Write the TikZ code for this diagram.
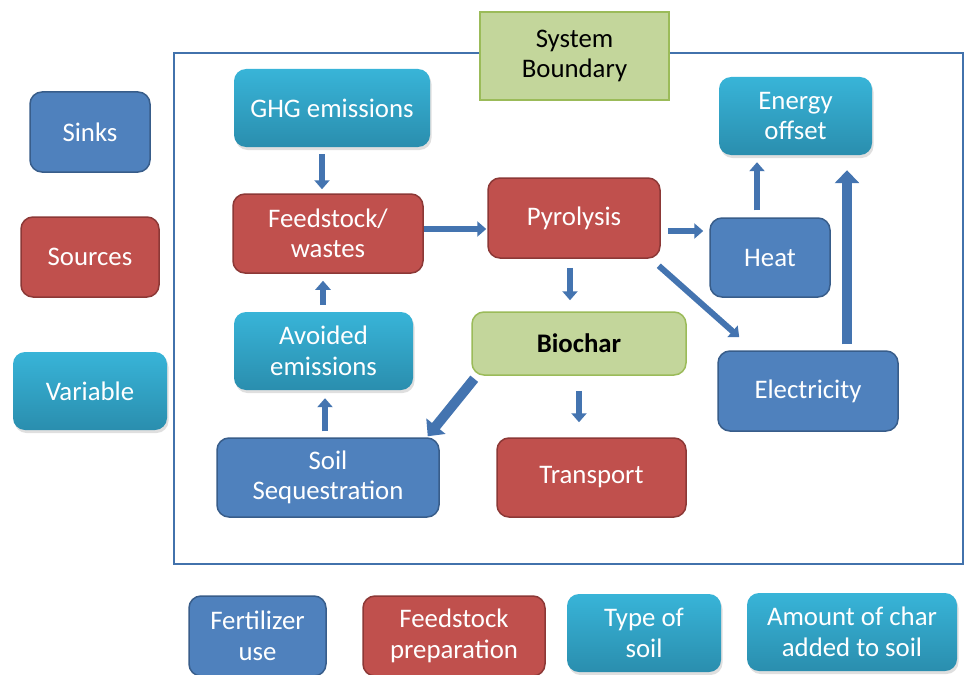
\documentclass[tikz,border=0pt]{standalone}
\usepackage{fontspec}
\setmainfont{Carlito}
\usetikzlibrary{arrows.meta,shadows,calc}
\definecolor{sinkf}{HTML}{4F81BD}
\definecolor{sinkd}{HTML}{385D8A}
\definecolor{srcf}{HTML}{C0504D}
\definecolor{srcd}{HTML}{8C3836}
\definecolor{cyantop}{HTML}{38B4D8}
\definecolor{cyanbot}{HTML}{2A8EAE}
\definecolor{grnf}{HTML}{C3D69B}
\definecolor{grnd}{HTML}{9BBB59}
\definecolor{bnd}{HTML}{4272AC}
\definecolor{arrc}{HTML}{4474B0}
\tikzset{
  boxbase/.style={rounded corners=12pt, inner sep=0pt, align=center, text=white},
  sinkbox/.style={boxbase, fill=sinkf, draw=sinkd, line width=1.5pt},
  srcbox/.style={boxbase, fill=srcf, draw=srcd, line width=1.5pt},
  varbox/.style={boxbase, top color=cyantop, bottom color=cyanbot, draw=none,
    drop shadow={opacity=0.25, shadow xshift=1.5pt, shadow yshift=-3pt}},
  greenbox/.style={inner sep=0pt, align=center, text=black, fill=grnf, draw=grnd, line width=1.5pt},
  arr/.style={draw=arrc, line width=6pt, -{Triangle[length=9pt,width=15pt]}},
  bigarr/.style={draw=arrc, line width=10pt, -{Triangle[length=13pt,width=24pt]}},
}
\begin{document}
\begin{tikzpicture}[x=1pt,y=-1pt, font=\fontsize{26.8}{30.5}\selectfont]
\useasboundingbox (0,0) rectangle (965,674);
\fill[white] (0,0) rectangle (965,674);
% system boundary
\draw[bnd, line width=1.8pt] (174,53) rectangle (963,564);
\node[greenbox, minimum width=189pt, minimum height=88pt] (sysb) at (574.5,56) {System\\Boundary};
% legend
\node[sinkbox, minimum width=120pt, minimum height=80pt] (sinks) at (90,132) {Sinks};
\node[srcbox, minimum width=138pt, minimum height=80pt] (sources) at (90,257) {Sources};
\node[varbox, minimum width=154pt, minimum height=78pt] (variable) at (90,391) {Variable};
% main nodes
\node[varbox, minimum width=196pt, minimum height=78pt] (ghg) at (332,108) {GHG emissions};
\node[srcbox, minimum width=190pt, minimum height=79pt] (feed) at (328,233.5) {Feedstock/\\wastes};
\node[varbox, minimum width=179pt, minimum height=78pt] (avoided) at (323.5,351) {Avoided\\emissions};
\node[sinkbox, minimum width=222pt, minimum height=79pt] (soil) at (328,477.5) {Soil\\Sequestration};
\node[srcbox, minimum width=172pt, minimum height=80pt] (pyro) at (574,218) {Pyrolysis};
\node[sinkbox, minimum width=120pt, minimum height=79pt] (heat) at (770,257.5) {Heat};
\node[varbox, minimum width=153pt, minimum height=78pt] (energy) at (795.5,116) {Energy\\offset};
\node[greenbox, rounded corners=12pt, minimum width=214pt, minimum height=63pt, font=\fontsize{26.8}{30.5}\selectfont\bfseries] (biochar) at (579,343.5) {Biochar};
\node[sinkbox, minimum width=180pt, minimum height=80pt] (elec) at (808,391) {Electricity};
\node[srcbox, minimum width=189pt, minimum height=79pt] (transport) at (591.5,477.5) {Transport};
% bottom row
\node[sinkbox, minimum width=137pt, minimum height=80pt] (fert) at (257.5,636) {Fertilizer\\use};
\node[srcbox, minimum width=182pt, minimum height=80pt] (fprep) at (454,636) {Feedstock\\preparation};
\node[varbox, minimum width=154pt, minimum height=78pt] (tsoil) at (644,633) {Type of\\soil};
\node[varbox, minimum width=210pt, minimum height=78pt] (amount) at (852,632) {Amount of char\\added to soil};
% arrows
\draw[arr] ($(ghg.south)+(-10,7)$) -- ($(feed.north)+(-6,-4)$);
\draw[arr] ($(avoided.north)+(-0.5,-7)$) -- ($(feed.south)+(-5,7)$);
\draw[arr] ($(soil.north)+(-3,-6)$) -- ($(avoided.south)+(1.5,8)$);
\draw[arr] ($(feed.east)+(0,-4.5)$) -- ($(pyro.west)+(-1,11)$);
\draw[arr] ($(pyro.east)+(7,13)$) -- ($(heat.west)+(-6,-26.5)$);
\draw[arr] ($(pyro.south)+(-4,9)$) -- ($(biochar.north)+(-9,-11)$);
\draw[arr] ($(pyro.south east)+(-2,7)$) -- ($(elec.north west)+(22,-13)$);
\draw[arr] ($(heat.north)+(-13,-7)$) -- ($(energy.south)+(-38.5,7)$);
\draw[bigarr] ($(elec.north)+(39,-6)$) -- ($(energy.south)+(51.5,15)$);
\draw[bigarr] ($(biochar.south west)+(3,3)$) -- ($(soil.north east)+(-12,-1)$);
\draw[arr] ($(biochar.south)+(0,15)$) -- ($(transport.north)+(-12.5,-15)$);
\end{tikzpicture}
\end{document}
